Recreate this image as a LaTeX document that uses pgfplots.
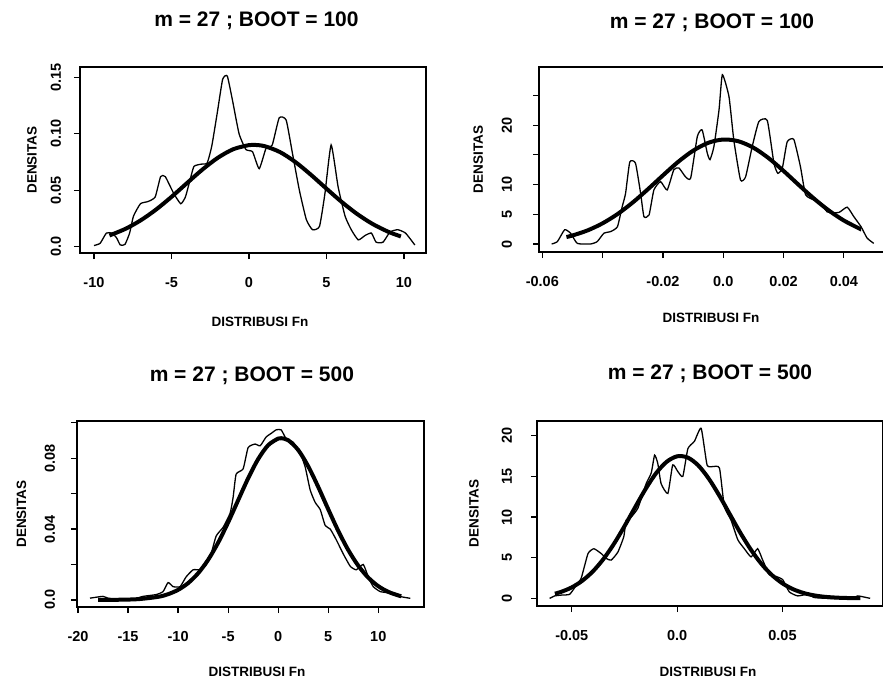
\documentclass[border=0pt]{standalone}
\usepackage{fontspec}
\setmainfont{Liberation Sans}
\usepackage{pgfplots}
\pgfplotsset{compat=1.18}

\pgfplotsset{
  rplot/.style={
    scale only axis,
    anchor=south west,
    scaled ticks=false,
    axis line style={line width=1.8pt},
    every tick/.style={black, line width=1.2pt},
    tick align=outside,
    major tick length=6pt,
    xtick pos=left, ytick pos=left,
    title style={font=\fontsize{21}{21}\selectfont\bfseries, anchor=center},
    tick label style={font=\fontsize{14.5}{14.5}\selectfont\bfseries},
    xticklabel style={anchor=center, yshift=-24pt},
    label style={font=\fontsize{13.5}{13.5}\selectfont\bfseries},
    xlabel={DISTRIBUSI Fn},
    ylabel={DENSITAS},
    xlabel style={anchor=center},
    ylabel style={anchor=center, rotate=0},
  },
  thin/.style={black, line width=1.3pt, smooth, tension=0.3},
  thick/.style={black, line width=4pt, smooth},
}

\begin{document}
\begin{tikzpicture}
\path[use as bounding box] (0,0) rectangle (883pt,681pt);

% --- top left: m = 27, BOOT = 100
\begin{axis}[rplot,
  at={(80pt,428pt)}, width=346pt, height=186pt,
  xmin=-10.9, xmax=11.42, ymin=-0.0056, ymax=0.159,
  xtick={-10,-5,0,5,10}, xticklabels={-10,-5,0,5,10},
  ytick={0,0.05,0.1,0.15}, yticklabels={0.0,0.05,0.10,0.15},
  yticklabel style={anchor=center, xshift=-18pt, rotate=90},
  title={m = 27 ; BOOT = 100},
  title style={at={(axis description cs:0.51,1.215)}},
  xlabel style={at={(axis description cs:0.52,-0.371)}},
  ylabel style={at={(axis description cs:-0.139,0.5)}},
]
\addplot[thin] coordinates {
(-10,0.001) (-9.6,0.003) (-9.2,0.012) (-8.85,0.012) (-8.55,0.008) (-8.3,0.0015)
(-8.0,0.002) (-7.7,0.012) (-7.45,0.027) (-7.0,0.038) (-6.5,0.040) (-6.05,0.044)
(-5.7,0.062) (-5.4,0.062) (-4.85,0.047) (-4.4,0.038) (-4.1,0.044) (-3.8,0.059)
(-3.55,0.071) (-3.1,0.073) (-2.7,0.074) (-2.4,0.089) (-2.05,0.118) (-1.7,0.148)
(-1.4,0.151) (-1.07,0.130) (-0.64,0.100) (-0.2,0.086) (0.23,0.084) (0.66,0.069)
(1.1,0.087) (1.5,0.090) (1.95,0.114) (2.4,0.112) (2.8,0.083) (3.25,0.050)
(3.7,0.024) (4.1,0.015) (4.55,0.018) (4.9,0.047) (5.3,0.090) (5.75,0.053)
(6.2,0.027) (6.6,0.015) (7.05,0.006) (7.5,0.010) (7.9,0.012) (8.2,0.004)
(8.65,0.004) (9.1,0.013) (9.6,0.015) (10.1,0.012) (10.7,0.0015)
};
\addplot[thick] coordinates {
(-9,0.00995) (-8,0.01558) (-7,0.02317) (-6,0.03278) (-5,0.04404) (-4,0.05625)
(-3,0.06827) (-2,0.07874) (-1,0.08631) (0,0.08989) (0.3,0.0901) (1,0.08898)
(2,0.08371) (3,0.07483) (4,0.06357) (5,0.05132) (6,0.03937) (7,0.02871)
(8,0.01989) (9,0.0131) (9.8,0.00904)
};
\end{axis}

% --- top right: m = 27, BOOT = 100
\begin{axis}[rplot,
  at={(539pt,429pt)}, width=348pt, height=185pt,
  xmin=-0.0611, xmax=0.0543, ymin=-1.35, ymax=29.8,
  xtick={-0.06,-0.04,-0.02,0,0.02,0.04}, xticklabels={-0.06,{},-0.02,0.0,0.02,0.04},
  ytick={0,5,10,15,20,25}, yticklabels={0,5,10,{},20,{}},
  yticklabel style={anchor=center, xshift=-26pt, rotate=90},
  title={m = 27 ; BOOT = 100},
  title style={at={(axis description cs:0.497,1.205)}},
  xlabel style={at={(axis description cs:0.494,-0.357)}},
  ylabel style={at={(axis description cs:-0.175,0.5)}},
]
\addplot[thin] coordinates {
(-0.0569,0) (-0.0550,0.4) (-0.0526,2.4) (-0.0506,1.8) (-0.0484,0.1) (-0.0440,0)
(-0.0418,0.4) (-0.0396,1.8) (-0.0373,2.1) (-0.0351,2.9) (-0.0335,6.3) (-0.0324,8.5)
(-0.0310,13.8) (-0.0291,13.6) (-0.0274,8.5) (-0.0263,4.6) (-0.0246,4.9) (-0.0230,9.1)
(-0.0208,10.5) (-0.0186,9.1) (-0.0164,12.5) (-0.0147,12.8) (-0.0125,11.3) (-0.0108,11.1)
(-0.0086,18.1) (-0.0070,19.2) (-0.0053,15.3) (-0.0044,14.2) (-0.0031,16.4) (-0.0014,22.6)
(-0.0003,28.5) (0.0019,24.8) (0.0035,17.5) (0.0057,10.8) (0.0074,11.3) (0.0096,16.4)
(0.0118,20.6) (0.0146,20.8) (0.0168,13.6) (0.0181,11.9) (0.0196,12.8) (0.0212,17.2)
(0.0234,17.6) (0.0256,13.0) (0.0273,8.3) (0.0301,7.4) (0.0323,6.9) (0.0345,5.4)
(0.0383,5.3) (0.0411,6.2) (0.0433,4.6) (0.0457,2.9) (0.0477,1.0) (0.0499,0.1)
};
\addplot[thick] coordinates {
(-0.052,1.169) (-0.050,1.430) (-0.045,2.286) (-0.040,3.485) (-0.035,5.058)
(-0.030,6.994) (-0.025,9.212) (-0.020,11.55) (-0.015,13.81) (-0.010,15.71)
(-0.005,17.03) (0.000,17.59) (0.005,17.30) (0.010,16.21) (0.015,14.47)
(0.020,12.30) (0.025,9.956) (0.030,7.679) (0.035,5.641) (0.040,3.948)
(0.045,2.631) (0.0457,2.477)
};
\end{axis}

% --- bottom left: m = 27, BOOT = 500
\begin{axis}[rplot,
  at={(77pt,74pt)}, width=347pt, height=186pt,
  xmin=-20.1, xmax=14.57, ymin=-0.004, ymax=0.101,
  xtick={-20,-15,-10,-5,0,5,10}, xticklabels={-20,-15,-10,-5,0,5,10},
  ytick={0,0.02,0.04,0.06,0.08,0.1}, yticklabels={0.0,{},0.04,{},0.08,{}},
  yticklabel style={anchor=center, xshift=-21pt, rotate=90},
  title={m = 27 ; BOOT = 500},
  title style={at={(axis description cs:0.504,1.209)}},
  xlabel style={at={(axis description cs:0.519,-0.35)}},
  ylabel style={at={(axis description cs:-0.16,0.5)}},
]
\addplot[thin] coordinates {
(-18.8,0.001) (-18.2,0.0015) (-17.5,0.002) (-17.0,0.001) (-15.8,0) (-14.5,0.0004)
(-13.5,0.002) (-12.2,0.003) (-11.5,0.0047) (-11.0,0.0098) (-10.5,0.0075) (-9.8,0.0075)
(-9.2,0.013) (-8.5,0.017) (-7.8,0.017) (-7.3,0.019) (-6.8,0.024) (-6.2,0.036)
(-5.5,0.041) (-4.8,0.049) (-4.5,0.058) (-4.2,0.071) (-3.5,0.074) (-3.0,0.086)
(-2.3,0.088) (-1.8,0.087) (-1.2,0.092) (-0.7,0.094) (-0.2,0.096) (0.3,0.096)
(0.8,0.091) (1.5,0.089) (2.2,0.083) (2.7,0.075) (3.2,0.062) (3.7,0.055)
(4.2,0.051) (4.7,0.042) (5.2,0.040) (5.8,0.034) (6.5,0.026) (7.2,0.019)
(7.8,0.017) (8.5,0.020) (9.0,0.013) (9.5,0.0075) (10.2,0.0047) (11.2,0.0038)
(12.2,0.0019) (13.2,0.0009)
};
\addplot[thick] coordinates {
(-18,0.00001) (-16,0.00009) (-14,0.00043) (-12,0.00174) (-11,0.00323) (-10,0.00568)
(-9,0.00948) (-8,0.01504) (-7,0.02262) (-6,0.0323) (-5,0.04376) (-4,0.05626)
(-3,0.06865) (-2,0.07949) (-1,0.08735) (0,0.09108) (0.3,0.0913) (1,0.09014)
(2,0.08464) (3,0.07543) (4,0.0638) (5,0.0512) (6,0.039) (7,0.02818)
(8,0.01933) (9,0.01258) (10,0.00777) (11,0.00456) (12,0.00253) (12.3,0.0021)
};
\end{axis}

% --- bottom right: m = 27, BOOT = 500
\begin{axis}[rplot,
  at={(537pt,75pt)}, width=346pt, height=185pt,
  xmin=-0.0665, xmax=0.0977, ymin=-0.94, ymax=21.8,
  xtick={-0.05,0,0.05}, xticklabels={-0.05,0.0,0.05},
  ytick={0,5,10,15,20}, yticklabels={0,5,10,15,20},
  yticklabel style={anchor=center, xshift=-24pt, rotate=90},
  title={m = 27 ; BOOT = 500},
  title style={at={(axis description cs:0.5,1.222)}},
  xlabel style={at={(axis description cs:0.494,-0.357)}},
  ylabel style={at={(axis description cs:-0.182,0.5)}},
]
\addplot[thin] coordinates {
(-0.0605,0) (-0.0581,0.3) (-0.0550,0.4) (-0.0510,0.5) (-0.0479,1.6) (-0.0455,2.5)
(-0.0423,5.5) (-0.0395,6.1) (-0.0360,5.5) (-0.0336,4.9) (-0.0313,4.7) (-0.0281,5.7)
(-0.0253,7.6) (-0.0242,9.6) (-0.0218,10.0) (-0.0186,11.1) (-0.0147,14.1) (-0.0123,15.4)
(-0.0107,17.6) (-0.0092,16.6) (-0.0076,14.1) (-0.0044,12.9) (-0.0021,16.4) (0.0003,15.6)
(0.0027,15.0) (0.0051,18.4) (0.0082,19.3) (0.0114,20.9) (0.0142,16.4) (0.0169,16.2)
(0.0201,16.0) (0.0224,11.3) (0.0256,9.6) (0.0288,7.2) (0.0319,6.1) (0.0351,5.1)
(0.0382,6.1) (0.0406,4.7) (0.0438,2.9) (0.0469,2.7) (0.0501,2.3) (0.0532,0.8)
(0.0572,0.3) (0.0619,0.5) (0.0651,0.1) (0.0714,0) (0.0777,0) (0.0833,0)
(0.0856,0.3) (0.0880,0.2) (0.0916,0)
};
\addplot[thick] coordinates {
(-0.058,0.574) (-0.055,0.803) (-0.050,1.351) (-0.045,2.167) (-0.040,3.311)
(-0.035,4.827) (-0.030,6.697) (-0.025,8.86) (-0.020,11.17) (-0.015,13.43)
(-0.010,15.38) (-0.005,16.78) (0.000,17.46) (0.005,17.31) (0.010,16.35)
(0.015,14.72) (0.020,12.64) (0.025,10.34) (0.030,8.055) (0.035,5.985)
(0.040,4.237) (0.045,2.858) (0.050,1.839) (0.055,1.127) (0.060,0.658)
(0.065,0.366) (0.070,0.194) (0.075,0.098) (0.080,0.047) (0.087,0.016)
};
\end{axis}
\end{tikzpicture}
\end{document}
